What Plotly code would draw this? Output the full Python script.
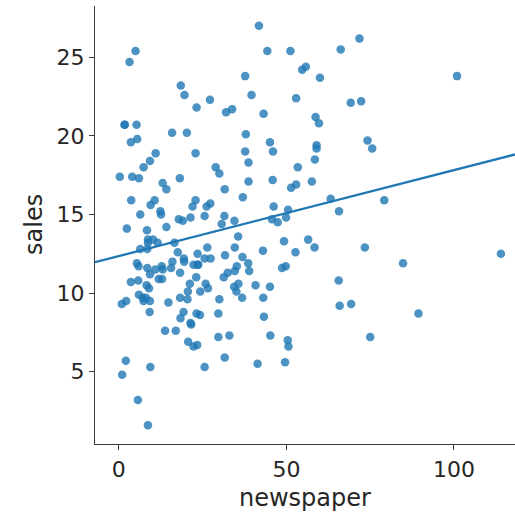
import numpy as np
import plotly.graph_objects as go

newspaper = [69.2, 45.1, 69.3, 58.5, 58.4, 75, 23.5, 11.6, 1, 21.2,
             24.2, 4, 65.9, 7.2, 46, 52.9, 114, 55.8, 18.3, 19.1,
             53.4, 23.5, 49.6, 26.2, 18.3, 19.5, 12.6, 22.9, 22.9, 40.8,
             43.2, 38.6, 30, 0.3, 7.4, 8.5, 5, 45.7, 35.1, 32,
             31.6, 38.7, 1.8, 26.4, 43.3, 31.5, 35.7, 18.5, 49.9, 36.8,
             34.6, 3.6, 39.6, 58.7, 15.9, 60, 41.4, 16.6, 37.7, 9.3,
             21.4, 54.7, 27.3, 8.4, 28.9, 0.9, 2.2, 10.2, 11, 27.2,
             38.7, 31.7, 19.3, 31.3, 13.1, 89.4, 20.7, 14.2, 9.4, 23.1,
             22.3, 36.9, 32.5, 35.6, 33.8, 65.7, 16, 63.2, 73.4, 51.4,
             9.3, 33, 59, 72.3, 10.9, 52.9, 5.9, 22, 51.2, 45.9,
             49.8, 100.9, 21.4, 17.9, 5.3, 59, 29.7, 23.2, 25.6, 5.5,
             56.5, 23.2, 2.4, 10.7, 34.5, 52.7, 25.6, 14.8, 79.2, 22.3,
             46.2, 50.4, 15.6, 12.4, 74.2, 25.9, 50.6, 9.2, 3.2, 43.1,
             8.7, 43, 2.1, 45.1, 65.6, 8.5, 9.3, 59.7, 20.5, 1.7,
             12.9, 75.6, 37.9, 34.4, 38.9, 9, 8.7, 44.3, 11.9, 20.6,
             37, 48.7, 14.2, 37.7, 9.5, 5.7, 50.5, 24.3, 45.2, 34.6,
             30.7, 49.3, 25.6, 7.4, 5.4, 84.8, 21.6, 19.4, 57.6, 6.4,
             18.4, 47.4, 17, 12.8, 13.1, 41.8, 20.3, 35.2, 23.7, 17.6,
             8.3, 27.4, 29.7, 71.8, 30, 19.6, 26.6, 18.2, 3.7, 23.4,
             5.8, 6, 31.6, 3.6, 6, 13.8, 8.1, 6.4, 66.2, 8.7]

sales = [22.1, 10.4, 9.3, 18.5, 12.9, 7.2, 11.8, 13.2, 4.8, 10.6,
         8.6, 17.4, 9.2, 9.7, 19, 22.4, 12.5, 24.4, 11.3, 14.6,
         18, 12.5, 5.6, 15.5, 9.7, 12, 15, 15.9, 18.9, 10.5,
         21.4, 11.9, 9.6, 17.4, 9.5, 12.8, 25.4, 14.7, 10.1, 21.5,
         16.6, 17.1, 20.7, 12.9, 8.5, 14.9, 10.6, 23.2, 14.8, 9.7,
         11.4, 10.7, 22.6, 21.2, 20.2, 23.7, 5.5, 13.2, 23.8, 18.4,
         8.1, 24.2, 15.7, 14, 18, 9.3, 9.5, 13.4, 18.9, 22.3,
         18.3, 12.4, 8.8, 11, 17, 8.7, 6.9, 14.2, 5.3, 11,
         11.8, 12.3, 11.3, 13.6, 21.7, 15.2, 12, 16, 12.9, 16.7,
         11.2, 7.3, 19.4, 22.2, 11.5, 16.9, 11.7, 15.5, 25.4, 17.2,
         11.7, 23.8, 14.8, 14.7, 20.7, 19.2, 7.2, 8.7, 5.3, 19.8,
         13.4, 21.8, 14.1, 15.9, 14.6, 12.6, 12.2, 9.4, 15.9, 6.6,
         15.5, 7, 11.6, 15.2, 19.7, 10.6, 6.6, 8.8, 24.7, 9.7,
         1.6, 12.7, 5.7, 19.6, 10.8, 11.6, 9.5, 20.8, 9.6, 20.7,
         10.9, 19.2, 20.1, 10.4, 11.4, 10.3, 13.2, 25.4, 10.9, 10.1,
         16.1, 11.6, 16.6, 19, 15.6, 3.2, 15.3, 10.1, 7.3, 12.9,
         14.4, 13.3, 14.9, 18, 11.9, 11.9, 8, 12.2, 17.1, 15,
         8.4, 14.5, 7.6, 11.7, 11.5, 27, 20.2, 11.7, 11.8, 12.6,
         10.5, 12.2, 8.7, 26.2, 17.6, 22.6, 10.3, 17.3, 15.9, 6.7,
         10.8, 9.9, 5.9, 19.6, 17.3, 7.6, 9.7, 12.8, 25.5, 13.4]

x_ticks = [0, 50, 100]
y_ticks = [5, 10, 15, 20, 25]

x = np.array(newspaper)
y = np.array(sales)
slope, intercept = np.polyfit(x, y, 1)

x_range = [-7.1, 118.2]
y_range = [0.4, 28.26]
xl = np.linspace(x_range[0], x_range[1], 50)

blue = "#1f77b4"
ink = "#262626"

fig = go.Figure()
fig.add_trace(go.Scatter(
    x=newspaper, y=sales, mode="markers",
    marker=dict(size=8.5, color=blue, opacity=0.8, line=dict(width=0)),
    hoverinfo="skip", showlegend=False))
fig.add_trace(go.Scatter(
    x=xl, y=intercept + slope * xl, mode="lines",
    line=dict(color=blue, width=2.3),
    hoverinfo="skip", showlegend=False))

axis_common = dict(
    showgrid=False, zeroline=False, showline=True, automargin=False,
    linecolor="#3a3a3a", linewidth=1.2,
    ticks="outside", ticklen=5, tickwidth=1.2, tickcolor="#3a3a3a",
    tickfont=dict(family="DejaVu Sans", size=22, color=ink),
)

fig.update_layout(
    width=515, height=512,
    margin=dict(l=95, r=0, t=6, b=68),
    paper_bgcolor="white", plot_bgcolor="white",
    font=dict(family="DejaVu Sans", color=ink),
    xaxis=dict(range=x_range, tickvals=x_ticks, **axis_common),
    yaxis=dict(range=y_range, tickvals=y_ticks, **axis_common),
    annotations=[
        dict(text="newspaper", xref="paper", yref="paper", x=0.5, y=0,
             xanchor="center", yanchor="middle", yshift=-54, showarrow=False,
             font=dict(family="DejaVu Sans", size=24, color=ink)),
        dict(text="sales", xref="paper", yref="paper", x=0, y=0.5,
             xanchor="center", yanchor="middle", xshift=-61, textangle=-90,
             showarrow=False,
             font=dict(family="DejaVu Sans", size=24, color=ink)),
    ],
)

fig.write_html("out.html",
               config={"displayModeBar": False},
               post_script="document.body.style.margin='0';document.body.style.overflow='hidden';")
